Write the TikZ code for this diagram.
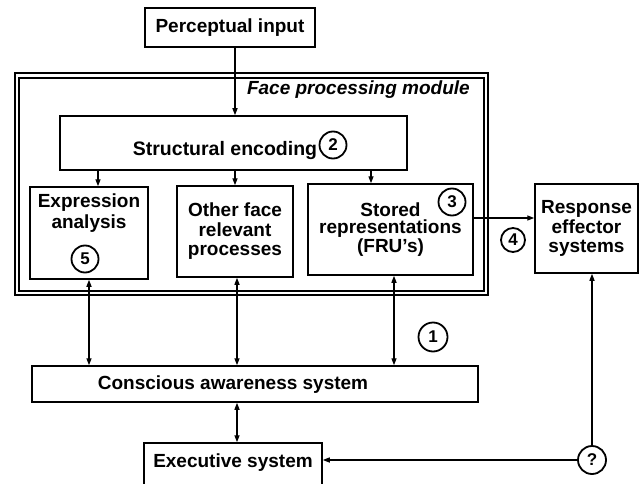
\documentclass[tikz,border=0pt]{standalone}
\usepackage{fontspec}
\setmainfont{Liberation Sans}
\usetikzlibrary{arrows.meta,calc}
\newcommand\dgmfont{\fontsize{19}{19.5}\selectfont\bfseries}
\newcommand\dgmtight{\fontsize{19}{17.5}\selectfont\bfseries}
\newcommand\numfont{\fontsize{17}{17}\selectfont\bfseries}

\begin{document}
\begin{tikzpicture}[x=1pt,y=-1pt,
  box/.style={draw,line width=1.5pt,inner sep=0pt,align=center,font=\dgmfont},
  txt/.style={inner sep=0pt,align=center,font=\dgmfont},
  circ/.style={circle,draw,line width=1.8pt,inner sep=0pt,minimum size=27pt,font=\numfont},
  arr/.style={line width=1.3pt,-{Triangle[length=7pt,width=5pt]}},
  darr/.style={line width=1.3pt,{Triangle[length=7pt,width=5pt]}-{Triangle[length=7pt,width=5pt]}}
]
\useasboundingbox (0,0) rectangle (642,484);

% input
\node[box,minimum width=170pt,minimum height=39pt] (perc) at (230,27.5) {Perceptual input};

% face processing module: double frame
\node[draw,line width=2pt,inner sep=0pt,minimum width=473pt,minimum height=222pt] (module) at (251.5,184) {};
\node[draw,line width=1.1pt,inner sep=0pt,minimum width=465pt,minimum height=213pt] (modin) at (251.5,184.5) {};
\node[inner sep=0pt,anchor=east,font=\dgmfont\itshape] (modtitle) at (470,90) {Face processing module};

% structural encoding
\node[box,minimum width=347pt,minimum height=54pt] (struct) at (233.5,143) {};
\node[txt,font=\fontsize{19.5}{20}\selectfont\bfseries] (structtxt) at (225,151) {Structural encoding};
\node[circ] (c2) at (333,145) {2};

% three processing routes
\node[box,minimum width=118pt,minimum height=92pt] (expr) at (89,233) {};
\node[txt,font=\fontsize{19}{21}\selectfont\bfseries] (exprtxt) at (89,213) {Expression\\analysis};
\node[circ] (c5) at (85,259) {5};

\node[box,minimum width=116pt,minimum height=91pt] (other) at (235,231.5) {Other face\\relevant\\processes};

\node[box,font=\dgmtight,minimum width=165pt,minimum height=91pt] (stored) at (390.5,229.5) {Stored\\representations\\(FRU’s)};
\node[circ] (c3) at (452,202) {3};

% response side
\node[box,minimum width=103pt,minimum height=89pt] (resp) at (586.5,228.5) {Response\\effector\\systems};
\node[circ,minimum size=24pt] (c4) at (513,240) {4};

% awareness and executive
\node[box,minimum width=446pt,minimum height=36pt] (cons) at (255,384) {};
\node[txt] (constxt) at (233,385) {Conscious awareness system};
\node[circ,minimum size=29pt] (c1) at (433,337) {1};

\node[box,minimum width=178pt,minimum height=52pt] (exec) at (233,469) {};
\node[txt] (exectxt) at (233,463) {Executive system};
\node[circ,minimum size=28pt] (cq) at (592,460) {?};

% connectors
\draw[arr] ([xshift=5pt]perc.south) -- ([xshift=5pt]perc.south |- struct.north);
\draw[arr] ([xshift=9pt]expr.north |- struct.south) -- ([xshift=9pt]expr.north);
\draw[arr] (other.north |- struct.south) -- (other.north);
\draw[arr] ([xshift=-19.5pt]stored.north |- struct.south) -- ([xshift=-19.5pt]stored.north);

\draw[darr] (expr.south) -- (expr.south |- cons.north);
\draw[darr] ([xshift=2pt]other.south) -- ([xshift=2pt]other.south |- cons.north);
\draw[darr] ([xshift=3.5pt]stored.south) -- ([xshift=3.5pt]stored.south |- cons.north);
\draw[darr] ([xshift=4pt]exec.north |- cons.south) -- ([xshift=4pt]exec.north);

\draw[arr] ([yshift=11.5pt]stored.east) -- ([yshift=11.5pt]stored.east -| resp.west);
\draw[arr] (cq.west) -- (cq.west -| exec.east);
\draw[arr] (cq.north) -- (cq.north |- resp.south);
\end{tikzpicture}
\end{document}
